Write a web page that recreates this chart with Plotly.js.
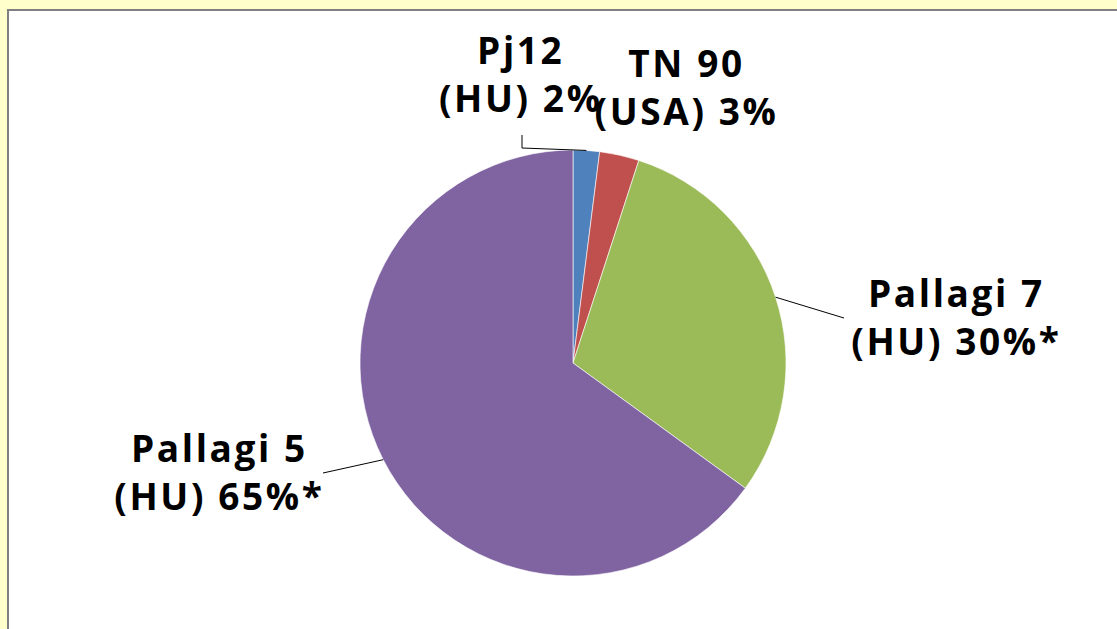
<!DOCTYPE html>
<html>
<head>
<meta charset="utf-8">
<script src="https://cdn.plot.ly/plotly-3.0.1.min.js"></script>
<style>html,body{margin:0;padding:0;background:#FFFFCC;}#chart{width:1117px;height:629px;}
#chart .annotation-text{letter-spacing:2.6px;}</style>
</head>
<body>
<div id="chart"></div>
<script>
// Data
const categories = ["Pj12 (HU)", "TN 90 (USA)", "Pallagi 7 (HU)", "Pallagi 5 (HU)"];
const values = [2, 3, 30, 65];
const labelTexts = ["Pj12<br>(HU) 2%", "TN 90<br>(USA) 3%", "Pallagi 7<br>(HU) 30%*", "Pallagi 5<br>(HU) 65%*"];
const colors = ["#4F81BD", "#C0504D", "#9BBB59", "#8064A2"];

const W = 1117, H = 629;
// Pie geometry (pixels)
const cx = 573, cy = 363, R = 213;
const dom = {x: [(cx - R) / W, (cx + R) / W], y: [1 - (cy + R) / H, 1 - (cy - R) / H]};

// Label placement (layout), and leader line settings
const labelPos = [
  {x: 520, y: 73, leader: [[522, 135], [522, 148]]},
  {x: 686, y: 87, leader: null},
  {x: 956, y: 317, leader: [[844, 318]]},
  {x: 219, y: 471, leader: [[323, 473]]}
];

const total = values.reduce((a, b) => a + b, 0);
const annotations = [];
const shapes = [
  {type: 'rect', xref: 'paper', yref: 'paper', x0: 8 / W, x1: 1.01, y0: -0.01, y1: 1 - 10 / H,
   fillcolor: '#FFFFFF', line: {color: '#808080', width: 2}, layer: 'below'}
];
let cum = 0;
values.forEach((v, i) => {
  const mid = (cum + v / 2) / total * 2 * Math.PI;
  cum += v;
  const ex = cx + R * Math.sin(mid), ey = cy - R * Math.cos(mid);
  const lp = labelPos[i];
  annotations.push({
    text: labelTexts[i], x: lp.x / W, y: 1 - lp.y / H, xref: 'paper', yref: 'paper',
    showarrow: false, xanchor: 'center', yanchor: 'middle', align: 'center',
    font: {family: '"Open Sans", sans-serif', size: 37, color: '#000000', weight: 'bold'}
  });
  if (lp.leader) {
    const pts = [[ex, ey]].concat(lp.leader.slice().reverse());
    let d = 'M ' + pts.map(p => (p[0] / W) + ' ' + (1 - p[1] / H)).join(' L ');
    shapes.push({type: 'path', xref: 'paper', yref: 'paper', path: d, line: {color: '#000000', width: 1}});
  }
});

const trace = {
  type: 'pie', labels: categories, values: values, sort: false, direction: 'clockwise', rotation: 0,
  marker: {colors: colors, line: {color: 'rgba(255,255,255,0.6)', width: 1}},
  textinfo: 'none', hoverinfo: 'label+percent', domain: dom, showlegend: false
};

const layout = {
  width: W, height: H, margin: {l: 0, r: 0, t: 0, b: 0},
  paper_bgcolor: '#FFFFCC', plot_bgcolor: '#FFFFFF',
  showlegend: false, annotations: annotations, shapes: shapes
};
Plotly.newPlot('chart', [trace], layout, {displayModeBar: false, staticPlot: true});
</script>
</body>
</html>
